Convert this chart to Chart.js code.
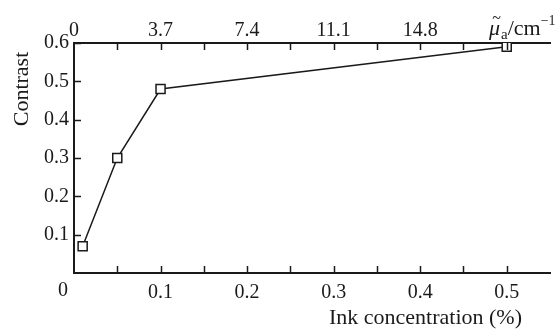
<!DOCTYPE html>
<html>
<head>
<meta charset="utf-8">
<script src="https://cdn.jsdelivr.net/npm/chart.js@4.4.0/dist/chart.umd.min.js"></script>
<style>
html, body { margin: 0; padding: 0; background: #fff; }
#wrap { width: 558px; height: 329px; }
</style>
</head>
<body>
<div id="wrap"><canvas id="chart"></canvas></div>
<script>
// Data
const inkConcentration = [0.01, 0.05, 0.1, 0.5]
const contrast = [0.07, 0.30, 0.48, 0.59]

// Tick labels
const bottomTickLabels = ['0', '0.1', '0.2', '0.3', '0.4', '0.5']
const topTickLabels = ['0', '3.7', '7.4', '11.1', '14.8']
const leftTickLabels = ['0.1', '0.2', '0.3', '0.4', '0.5', '0.6']

const serif = "'Liberation Serif', 'DejaVu Serif', serif"
const ink = '#1a1a1a'

// inward tick marks, axis titles and the mu label
const decorations = {
    id: 'decorations',
    afterDraw(chart) {
        const ctx = chart.ctx
        const area = chart.chartArea
        const len = 7
        ctx.save()
        ctx.strokeStyle = ink
        ctx.lineWidth = 1.5

        const xs = chart.scales.x
        const xt = chart.scales.x2
        const ys = chart.scales.y

        xs.ticks.forEach(t => {
            if (t.value <= 0 || t.value >= xs.max - 1e-6) return
            const px = Math.round(xs.getPixelForValue(t.value)) + 0.5
            ctx.beginPath()
            ctx.moveTo(px, area.bottom)
            ctx.lineTo(px, area.bottom - len)
            ctx.stroke()
        })
        xt.ticks.forEach(t => {
            if (t.value <= 0 || t.value >= xt.max - 1e-6) return
            const px = Math.round(xt.getPixelForValue(t.value)) + 0.5
            ctx.beginPath()
            ctx.moveTo(px, area.top)
            ctx.lineTo(px, area.top + len)
            ctx.stroke()
        })
        ys.ticks.forEach(t => {
            if (t.value <= 0) return
            const py = Math.round(ys.getPixelForValue(t.value)) + 0.5
            ctx.beginPath()
            ctx.moveTo(area.left, py)
            ctx.lineTo(area.left + len, py)
            ctx.stroke()
        })

        ctx.fillStyle = ink

        // origin label sits a little left of the axis
        ctx.font = `20px ${serif}`
        ctx.textAlign = 'center'
        ctx.textBaseline = 'middle'
        ctx.fillText(bottomTickLabels[0], xs.getPixelForValue(0) - 11, 291)

        // y title
        ctx.save()
        ctx.translate(22, 89)
        ctx.rotate(-Math.PI / 2)
        ctx.font = `22px ${serif}`
        ctx.textAlign = 'center'
        ctx.textBaseline = 'middle'
        ctx.fillText('Contrast', 0, 0)
        ctx.restore()

        // x title
        ctx.font = `22px ${serif}`
        ctx.textAlign = 'right'
        ctx.textBaseline = 'alphabetic'
        ctx.fillText('Ink concentration (%)', 522, 324)

        // top axis unit label
        let x = 489
        const base = 35
        ctx.textAlign = 'left'
        ctx.font = `italic 22px ${serif}`
        ctx.fillText('\u03BC', x, base)
        const muW = ctx.measureText('\u03BC').width
        ctx.font = `16px ${serif}`
        ctx.textAlign = 'center'
        ctx.fillText('~', x + muW / 2 + 2, base - 12)
        ctx.textAlign = 'left'
        x += muW + 1
        ctx.font = `15px ${serif}`
        ctx.fillText('a', x, base + 4)
        x += ctx.measureText('a').width
        ctx.font = `22px ${serif}`
        ctx.fillText('/cm', x, base)
        x += ctx.measureText('/cm').width
        ctx.font = `14px ${serif}`
        ctx.fillText('\u22121', x, base - 10)

        ctx.restore()
    }
}

const tickFont = { family: serif, size: 20 }

new Chart(document.getElementById('chart'), {
    type: 'line',
    data: {
        datasets: [{
            data: inkConcentration.map((v, i) => ({ x: v, y: contrast[i] })),
            borderColor: ink,
            borderWidth: 1.5,
            pointStyle: 'rect',
            pointRadius: 6.4,
            pointBorderWidth: 1.5,
            pointBackgroundColor: '#fff',
            pointBorderColor: ink,
            tension: 0,
        }],
    },
    options: {
        responsive: true,
        maintainAspectRatio: false,
        animation: false,
        layout: { padding: 0 },
        plugins: {
            legend: { display: false },
            tooltip: { enabled: false },
        },
        scales: {
            x: {
                type: 'linear',
                position: 'bottom',
                min: 0,
                max: 0.55,
                grid: { display: false, drawTicks: false },
                border: { display: true, color: ink, width: 2 },
                ticks: {
                    stepSize: 0.05,
                    autoSkip: false,
                    maxRotation: 0,
                    padding: 8,
                    color: ink,
                    font: tickFont,
                    // the origin "0" is drawn by the plugin
                    callback: (v, i) => (i > 0 && i % 2 === 0 && bottomTickLabels[i / 2]) || '',
                },
                afterFit: s => { s.height = 56 },
            },
            x2: {
                type: 'linear',
                position: 'top',
                min: 0,
                max: 0.55,
                grid: { display: false, drawTicks: false },
                border: { display: true, color: ink, width: 2 },
                ticks: {
                    stepSize: 0.05,
                    autoSkip: false,
                    maxRotation: 0,
                    padding: 0,
                    color: ink,
                    font: tickFont,
                    callback: (v, i) => (i % 2 === 0 && topTickLabels[i / 2]) || '',
                },
                afterFit: s => { s.height = 43 },
            },
            y: {
                type: 'linear',
                position: 'left',
                min: 0,
                max: 0.6,
                grid: { display: false, drawTicks: false },
                border: { display: true, color: ink, width: 2 },
                ticks: {
                    stepSize: 0.1,
                    padding: 5,
                    color: ink,
                    font: tickFont,
                    callback: (v, i) => i === 0 ? '' : leftTickLabels[i - 1],
                },
                afterFit: s => { s.width = 74 },
            },
        },
    },
    plugins: [decorations],
});
</script>
</body>
</html>
